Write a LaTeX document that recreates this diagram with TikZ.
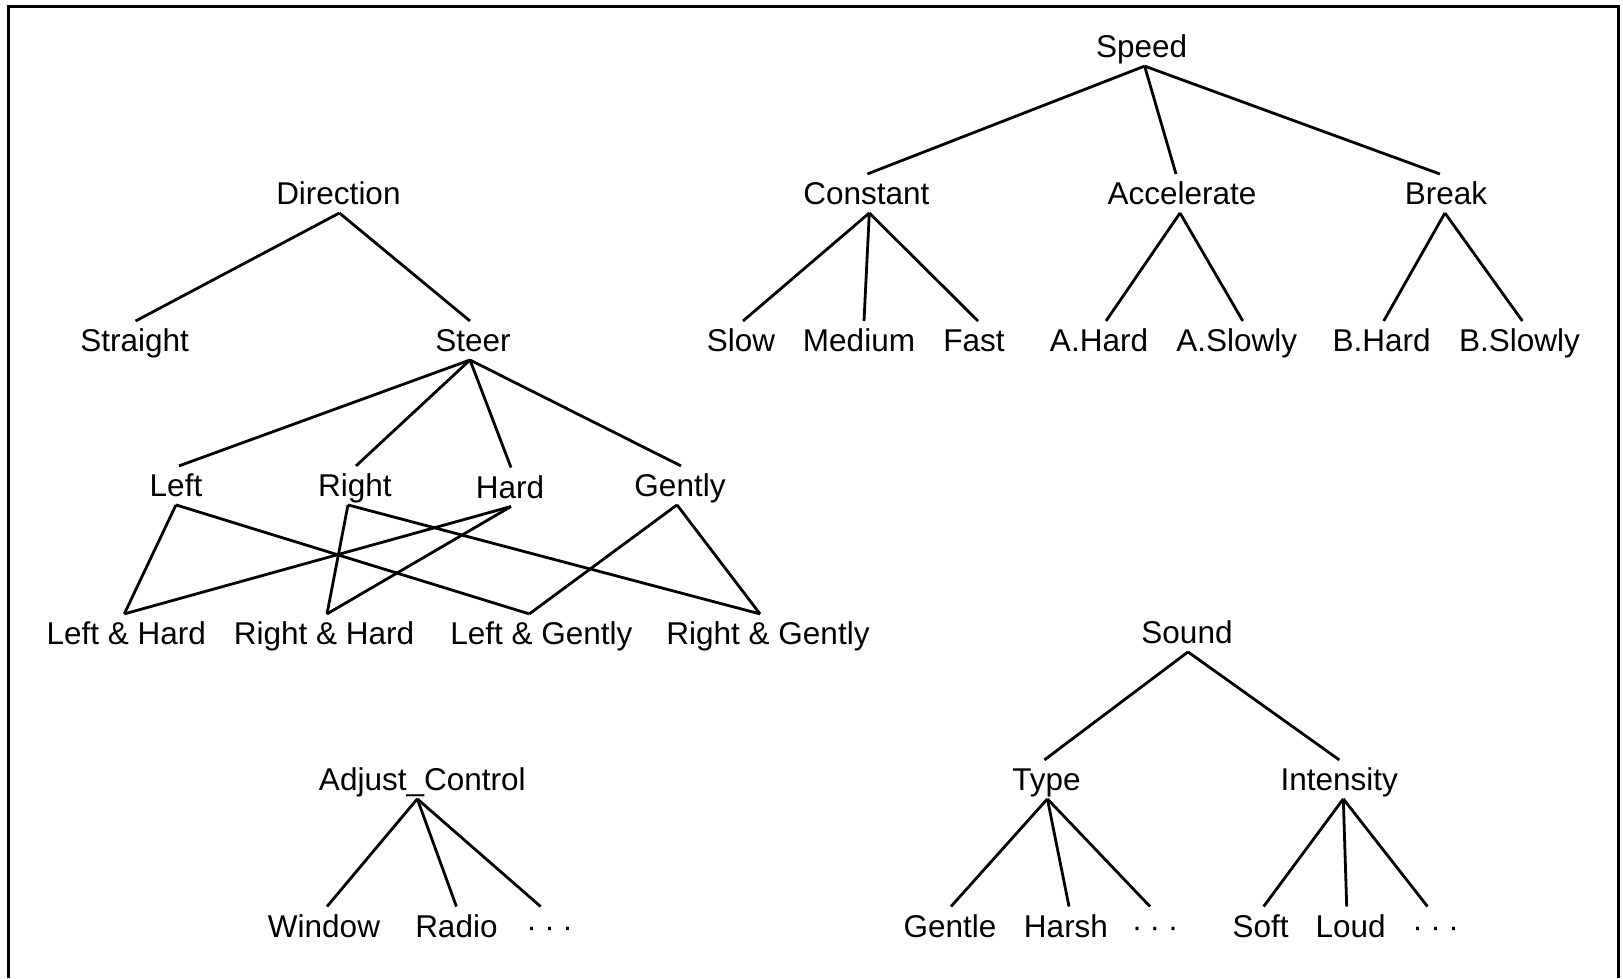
\documentclass[tikz,border=0pt]{standalone}
\usepackage{fontspec}
\setmainfont{Liberation Sans}
\newcommand{\bigdots}{\makebox[46.5pt]{\char"00B7\hfill\char"00B7\hfill\char"00B7}}
\begin{document}
\begin{tikzpicture}[x=1pt,y=-1pt,
  lbl/.style={font=\fontsize{31.5}{36}\selectfont, inner xsep=0pt, inner ysep=8pt, text height=22.6pt, text depth=0pt},
  edge/.style={line width=2.8pt, line cap=butt},
  frame/.style={line width=3pt}]
\useasboundingbox (0,0) rectangle (1623,978);
\draw[frame] (8,978) -- (8,6) -- (1618,6) -- (1618,978);
% Speed tree
\node[lbl] (speed) at (1141.6,46.6) {Speed};
\node[lbl] (constant) at (866.3,193.5) {Constant};
\node[lbl] (accel) at (1182,193.5) {Accelerate};
\node[lbl] (break) at (1445.9,193.5) {Break};
\node[lbl] (slow) at (741,340.5) {Slow};
\node[lbl] (medium) at (859,340.5) {Medium};
\node[lbl] (fast) at (974,340.5) {Fast};
\node[lbl] (ahard) at (1099,340.5) {A.Hard};
\node[lbl] (aslowly) at (1236.8,340.5) {A.Slowly};
\node[lbl] (bhard) at (1381.7,340.5) {B.Hard};
\node[lbl] (bslowly) at (1519.4,340.5) {B.Slowly};
\draw[edge] ([xshift=3pt]speed.south) -- ([xshift=1pt]constant.north);
\draw[edge] ([xshift=3pt]speed.south) -- ([xshift=-6pt]accel.north);
\draw[edge] ([xshift=3pt]speed.south) -- ([xshift=-6pt]break.north);
\draw[edge] ([xshift=3pt]constant.south) -- ([xshift=2pt]slow.north);
\draw[edge] ([xshift=3pt]constant.south) -- ([xshift=5pt]medium.north);
\draw[edge] ([xshift=3pt]constant.south) -- ([xshift=4pt]fast.north);
\draw[edge] ([xshift=-2pt]accel.south) -- ([xshift=7pt]ahard.north);
\draw[edge] ([xshift=-2pt]accel.south) -- ([xshift=6pt]aslowly.north);
\draw[edge] ([xshift=-1pt]break.south) -- ([xshift=2pt]bhard.north);
\draw[edge] ([xshift=-1pt]break.south) -- ([xshift=3pt]bslowly.north);
% Direction tree
\node[lbl] (direction) at (338.4,193.5) {Direction};
\node[lbl] (straight) at (134.6,340.5) {Straight};
\node[lbl] (steer) at (473,340.5) {Steer};
\node[lbl] (left) at (176,485.4) {Left};
\node[lbl] (right) at (355,485.4) {Right};
\node[lbl] (hard) at (510,487) {Hard};
\node[lbl] (gently) at (680,485.4) {Gently};
\node[lbl] (lh) at (126.3,633.4) {Left \& Hard};
\node[lbl] (rh) at (324,633.4) {Right \& Hard};
\node[lbl] (lg) at (541.3,633.4) {Left \& Gently};
\node[lbl] (rg) at (768,633.4) {Right \& Gently};
\draw[edge] ([xshift=1pt]direction.south) -- ([xshift=1pt]straight.north);
\draw[edge] ([xshift=1pt]direction.south) -- ([xshift=-3pt]steer.north);
\draw[edge] ([xshift=-3pt]steer.south) -- ([xshift=3pt]left.north);
\draw[edge] ([xshift=-3pt]steer.south) -- ([xshift=1pt]right.north);
\draw[edge] ([xshift=-3pt]steer.south) -- ([xshift=1pt]hard.north);
\draw[edge] ([xshift=-3pt]steer.south) -- ([xshift=1pt]gently.north);
\draw[edge] (left.south) -- ([xshift=-2pt]lh.north);
\draw[edge] (left.south) -- ([xshift=-12pt]lg.north);
\draw[edge] ([xshift=-7pt]right.south) -- ([xshift=3pt]rh.north);
\draw[edge] ([xshift=-7pt]right.south) -- ([xshift=-8pt]rg.north);
\draw[edge] ([xshift=1pt]hard.south) -- ([xshift=-2pt]lh.north);
\draw[edge] ([xshift=1pt]hard.south) -- ([xshift=3pt]rh.north);
\draw[edge] ([xshift=-3pt]gently.south) -- ([xshift=-12pt]lg.north);
\draw[edge] ([xshift=-3pt]gently.south) -- ([xshift=-8pt]rg.north);
% Sound tree
\node[lbl] (sound) at (1187,632.4) {Sound};
\node[lbl] (type) at (1046.4,779.4) {Type};
\node[lbl] (intensity) at (1339.3,779.4) {Intensity};
\node[lbl] (gentle) at (950,926) {Gentle};
\node[lbl] (harsh) at (1066,926) {Harsh};
\node[lbl] (dotsa) at (1155,926) {\bigdots};
\node[lbl] (soft) at (1260.6,926) {Soft};
\node[lbl] (loud) at (1350.7,926) {Loud};
\node[lbl] (dotsb) at (1435.5,926) {\bigdots};
\draw[edge] ([xshift=1pt]sound.south) -- ([xshift=-2pt]type.north);
\draw[edge] ([xshift=1pt]sound.south) -- (intensity.north);
\draw[edge] ([xshift=1pt]type.south) -- ([xshift=1pt]gentle.north);
\draw[edge] ([xshift=1pt]type.south) -- ([xshift=3pt]harsh.north);
\draw[edge] ([xshift=1pt]type.south) -- ([xshift=-5pt]dotsa.north);
\draw[edge] ([xshift=4pt]intensity.south) -- ([xshift=3pt]soft.north);
\draw[edge] ([xshift=4pt]intensity.south) -- ([xshift=-4pt]loud.north);
\draw[edge] ([xshift=4pt]intensity.south) -- ([xshift=-8pt]dotsb.north);
% Adjust_Control tree
\node[lbl] (adjust) at (422.3,779.4) {Adjust\_Control};
\node[lbl] (window) at (324,926) {Window};
\node[lbl] (radio) at (456.4,926) {Radio};
\node[lbl] (dotsc) at (549.6,926) {\bigdots};
\draw[edge] ([xshift=-5pt]adjust.south) -- ([xshift=3pt]window.north);
\draw[edge] ([xshift=-5pt]adjust.south) -- (radio.north);
\draw[edge] ([xshift=-5pt]adjust.south) -- ([xshift=-9pt]dotsc.north);
\end{tikzpicture}
\end{document}
